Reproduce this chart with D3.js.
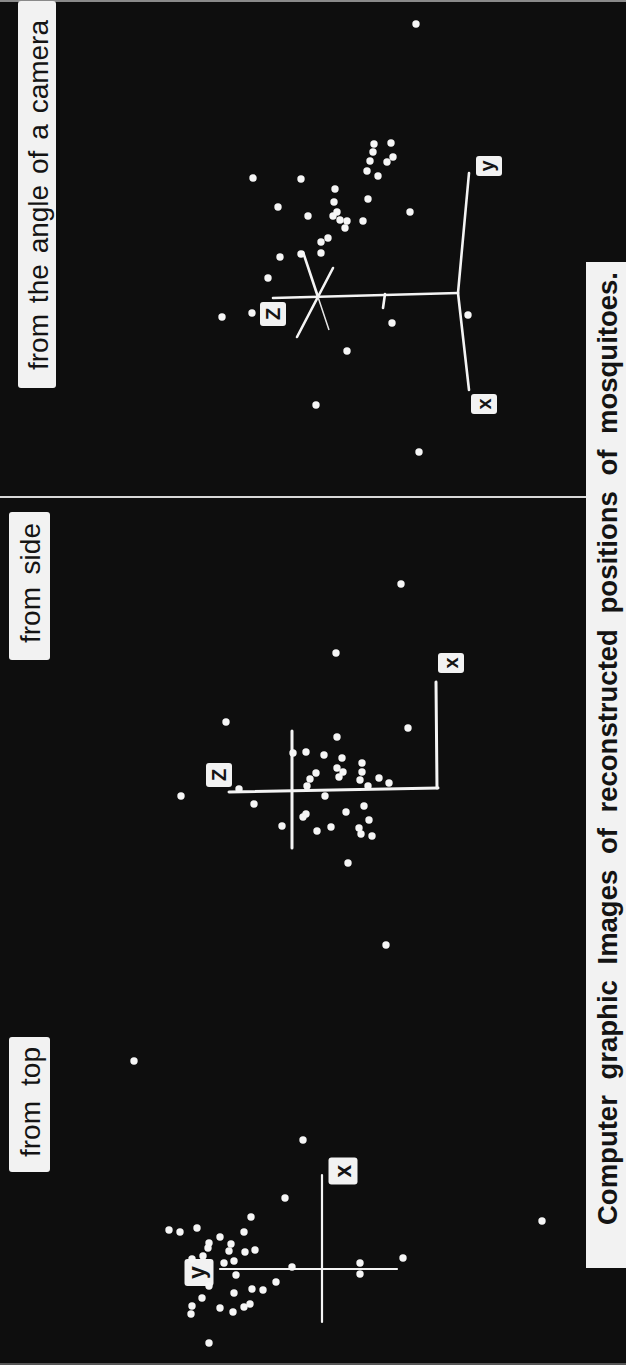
<!DOCTYPE html>
<html>
<head>
<meta charset="utf-8">
<script src="https://cdn.jsdelivr.net/npm/d3@7"></script>
<style>
  html, body { margin: 0; padding: 0; background: #0e0e0e; }
  svg { display: block; }
</style>
</head>
<body>
<div id="chart"></div>
<script>
// panel titles and caption
const titles = ["from the angle of a camera", "from side", "from top"];
const caption = "Computer graphic Images of reconstructed positions of mosquitoes.";

// mosquito positions, [horizontal, vertical] relative to each view's axis crossing
const cameraPoints = [
  [27.3, -9.8], [11.9, 6.5], [11.8, 1.7], [15.3, -5.6], [14.5, -5.5], [15.4, -7.3],
  [14.0, -7.5], [13.6, -5.2], [13.5, -6.9], [12.6, -4.9], [12.1, -6.0], [10.8, -1.7],
  [9.8, -5.0], [9.5, -1.6], [9.0, 4.0], [8.1, 1.0], [8.5, -1.9], [8.1, -1.5],
  [7.7, -2.2], [7.6, -2.9], [6.9, -2.7], [7.6, -4.5], [8.5, -9.2], [5.9, -1.0],
  [5.5, -0.3], [4.4, -0.3], [4.3, 1.7], [4.0, 3.8], [1.9, 5.0], [-1.6, 6.6],
  [-2.0, 9.6], [-2.6, -7.4], [-5.4, -2.9], [-10.8, 0.2], [-1.8, -15.0], [-15.5, -10.1]
];
const sidePoints = [
  [20.6, -10.9], [13.7, -4.4], [6.8, 6.6], [6.2, -11.6], [5.3, -4.5], [3.8, -1.4],
  [3.7, -0.1], [3.5, -3.2], [3.2, -5.0], [2.7, -7.0], [1.8, -7.0], [1.0, -6.8],
  [0.4, -7.6], [2.2, -4.5], [1.8, -5.1], [1.3, -4.7], [1.7, -2.4], [1.1, -1.8],
  [0.4, -1.5], [1.2, -8.7], [0.7, -9.7], [0.1, 5.3], [-0.6, 11.1], [-1.4, 3.8],
  [-0.6, -3.3], [-1.6, -7.2], [-2.4, -1.4], [-2.7, -1.1], [-2.2, -5.4], [-3.0, -7.7],
  [-3.6, 1.0], [-4.1, -2.5], [-3.7, -3.9], [-3.8, -6.7], [-4.4, -6.9], [-4.6, -8.0],
  [-7.3, -5.6]
];
const topPoints = [
  [32.4, -6.4], [20.8, 18.8], [12.9, 1.9], [7.1, 3.7], [5.2, 7.1], [4.8, -22.0],
  [3.9, 15.3], [3.7, 14.2], [4.1, 12.5], [3.2, 10.2], [3.7, 7.8], [2.6, 11.3],
  [2.1, 11.4], [2.5, 9.1], [1.8, 9.3], [1.7, 7.7], [1.9, 6.7], [1.3, 11.9],
  [0.6, 9.8], [0.8, 8.8], [0.2, 3.0], [0.6, -3.8], [1.1, -8.1], [-0.6, 8.6],
  [-0.5, -3.8], [-1.7, 11.3], [-1.3, 4.6], [-2.0, 7.0], [-2.1, 5.9], [-2.4, 8.8],
  [-2.9, 12.0], [-3.7, 13.0], [-4.5, 13.1], [-3.9, 10.2], [-4.3, 8.9], [-3.8, 7.8],
  [-3.5, 7.2], [-7.4, 11.3], [1.0, 13.0]
];

// axis segments [h1, k1, h2, k2] in the same units
const cameraAxes = [
  [-0.1, 4.5, 0.4, -14.0], [0.3, -6.7, -1.1, -6.5], [0.4, -14.0, 12.4, -15.1],
  [0.4, -14.0, -9.3, -15.1], [4.5, 1.5, 0, 0], [2.9, -1.5, -4.0, 2.1]
];
const cameraThinAxes = [[0, 0, -3.3, -1.1]];
const sideAxes = [[-0.2, 6.3, 0.2, -14.6], [0.2, -14.5, 10.8, -14.4], [5.9, 0, -5.8, 0]];
const topAxes = [[0, 10.2, 0, -7.5], [9.4, 0, -5.3, 0]];

// axis letters and where they sit
const cameraLabels = [["y", 13.1, -17.1], ["x", -10.7, -16.6], ["Z", -1.7, 4.5]];
const sideLabels = [["Z", 1.5, 7.3], ["x", 12.7, -15.9]];
const topLabels = [["x", 9.8, -2.1], ["y", -0.35, 12.3]];

// the figure is drawn sideways: work in a 1365 x 626 frame and rotate it
const PW = 626, PH = 1365;
const svg = d3.select("#chart").append("svg")
  .attr("width", PW).attr("height", PH);

svg.append("rect").attr("width", PW).attr("height", PH).attr("fill", "#0e0e0e");
// faint scanned edges
svg.append("line").attr("x1", 0).attr("x2", PW).attr("y1", 1).attr("y2", 1)
  .attr("stroke", "#8a8a8a").attr("stroke-width", 2);
svg.append("line").attr("x1", 0).attr("x2", PW).attr("y1", PH - 1).attr("y2", PH - 1)
  .attr("stroke", "#555").attr("stroke-width", 2);

const g = svg.append("g").attr("transform", `translate(0,${PH}) rotate(-90)`);

const font = "'Liberation Sans', Arial, Helvetica, sans-serif";

// fit a label along a span using word spacing
function fitText(sel, target) {
  const len = sel.node().getComputedTextLength();
  const gaps = sel.text().split(" ").length - 1;
  if (gaps > 0) sel.style("word-spacing", ((target - len) / gaps) + "px");
}

// divider between camera view and the others
g.append("line")
  .attr("x1", 868).attr("x2", 868).attr("y1", 0).attr("y2", 586)
  .attr("stroke", "#d8d8d8").attr("stroke-width", 2);

// caption strip
g.append("rect").attr("x", 97).attr("y", 586).attr("width", 1006).attr("height", 42)
  .attr("fill", "#f2f2f2");
const cap = g.append("text")
  .attr("x", 140).attr("y", 607)
  .attr("dominant-baseline", "central")
  .attr("font-family", font).attr("font-size", 27.5).attr("font-weight", "bold")
  .attr("fill", "#141414")
  .text(caption);
fitText(cap, 953);

const panels = [
  { title: titles[0], points: cameraPoints, axes: cameraAxes, thin: cameraThinAxes,
    labels: cameraLabels, origin: [1068, 318], box: [977, 18, 387, 38], span: [995, 350], stroke: 2.6 },
  { title: titles[1], points: sidePoints, axes: sideAxes, thin: [],
    labels: sideLabels, origin: [575, 292], box: [705, 9, 148, 41], span: [722, 120], stroke: 3 },
  { title: titles[2], points: topPoints, axes: topAxes, thin: [],
    labels: topLabels, origin: [96, 322], box: [193, 9, 135, 41], span: [208, 110], stroke: 2.2 }
];

panels.forEach((p, i) => {
  const x = d3.scaleLinear().domain([-40, 40]).range([p.origin[0] - 400, p.origin[0] + 400]);
  const y = d3.scaleLinear().domain([-40, 40]).range([p.origin[1] + 400, p.origin[1] - 400]);
  const pg = g.append("g");

  // title box
  pg.append("rect")
    .attr("x", p.box[0]).attr("y", p.box[1]).attr("width", p.box[2]).attr("height", p.box[3])
    .attr("rx", 3).attr("fill", "#f2f2f2");
  const t = pg.append("text")
    .attr("x", p.span[0]).attr("y", p.box[1] + p.box[3] / 2 + 1)
    .attr("dominant-baseline", "central")
    .attr("font-family", font).attr("font-size", 28)
    .attr("fill", "#141414")
    .text(p.title);
  fitText(t, p.span[1]);

  // axes
  pg.selectAll("line.axis")
    .data(p.axes)
    .join("line")
    .attr("class", "axis")
    .attr("x1", d => x(d[0])).attr("y1", d => y(d[1]))
    .attr("x2", d => x(d[2])).attr("y2", d => y(d[3]))
    .attr("stroke", "#f4f4f4").attr("stroke-width", p.stroke)
    .attr("stroke-linecap", "round");
  pg.selectAll("line.thin")
    .data(p.thin)
    .join("line")
    .attr("class", "thin")
    .attr("x1", d => x(d[0])).attr("y1", d => y(d[1]))
    .attr("x2", d => x(d[2])).attr("y2", d => y(d[3]))
    .attr("stroke", "#e6e6e6").attr("stroke-width", 1.5);

  // axis letter boxes
  const lb = pg.selectAll("g.lab")
    .data(p.labels)
    .join("g")
    .attr("class", "lab")
    .attr("transform", d => `translate(${x(d[1])},${y(d[2])})`);
  const bw = i === 2 ? 27 : 20, bh = i === 2 ? 29 : 26;
  lb.append("rect")
    .attr("x", d => (d[0] === "Z" ? -12 : -bw / 2)).attr("y", -bh / 2)
    .attr("width", d => (d[0] === "Z" ? 24 : bw)).attr("height", bh)
    .attr("rx", 3).attr("fill", "#f2f2f2");
  lb.append("text")
    .attr("text-anchor", "middle").attr("dominant-baseline", "central")
    .attr("y", d => (d[0] === "y" ? -2 : 0))
    .attr("font-family", font).attr("font-weight", "bold")
    .attr("font-size", i === 2 ? 23 : 20)
    .attr("fill", "#141414")
    .text(d => d[0]);

  // mosquitoes
  pg.selectAll("circle")
    .data(p.points)
    .join("circle")
    .attr("cx", d => x(d[0])).attr("cy", d => y(d[1]))
    .attr("r", 3.7)
    .attr("fill", "#f6f6f6");
});
</script>
</body>
</html>
